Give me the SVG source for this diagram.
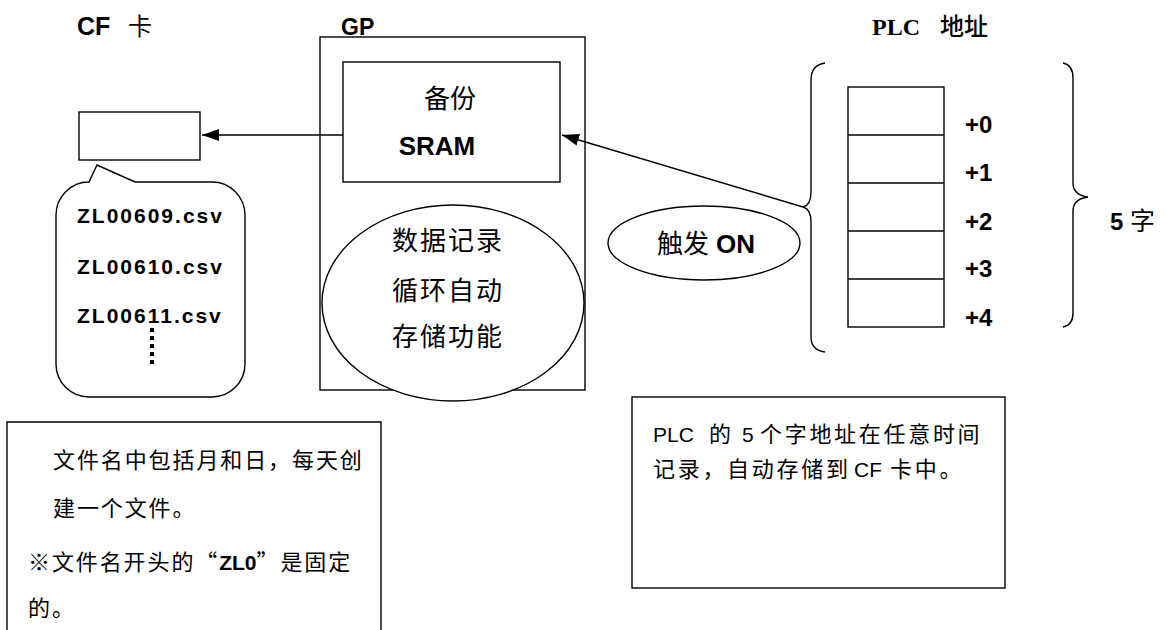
<svg xmlns="http://www.w3.org/2000/svg" width="1166" height="630" viewBox="0 0 1166 630">
<style>
.s{fill:none;stroke:#000;stroke-width:1.4}
.w{fill:#fff;stroke:#000;stroke-width:1.4}
text{font-family:"Liberation Sans","Noto Sans CJK SC",sans-serif;fill:#000}
.b{font-weight:bold}
.cj{font-family:"Noto Sans CJK SC",sans-serif}
.big{font-size:26px}
.lbl{font-size:24px;font-weight:bold}
.note{font-size:22px;letter-spacing:1.9px}
.nr{font-size:22px;letter-spacing:2.7px}
.lat{font-family:"Liberation Sans",sans-serif;font-size:21px;letter-spacing:0}
.fn{font-size:21px;font-weight:bold;letter-spacing:2px}
</style>
<defs>
<marker id="ah" markerWidth="18" markerHeight="12" refX="17" refY="6" orient="auto" markerUnits="userSpaceOnUse">
<path d="M0,0 L17,6 L0,12 Z" fill="#000"/>
</marker>
</defs>
<rect width="1166" height="630" fill="#fff"/>

<g id="titles">
<text x="77" y="35" font-size="25" class="b">CF</text>
<text x="128" y="35" font-size="24" class="cj">卡</text>
<text x="341" y="35" font-size="23" class="b">GP</text>
<text x="872" y="35" font-size="24" font-weight="bold" style="font-family:'Liberation Serif',serif">PLC</text>
<text x="940" y="35" font-size="24" class="cj" font-weight="500">地址</text>
</g>

<g id="cf-card">
<rect class="w" x="79" y="112" width="121" height="48"/>
</g>

<g id="file-list">
<path class="w" d="M89,182 L97,165 L135,182 H212 A33,33 0 0 1 245,215 V364 A33,33 0 0 1 212,397 H89 A33,33 0 0 1 56,364 V215 A33,33 0 0 1 89,182 Z"/>
<text class="fn" x="77" y="223">ZL00609.csv</text>
<text class="fn" x="77" y="274">ZL00610.csv</text>
<text class="fn" x="77" y="323">ZL00611.csv</text>
<line x1="152" y1="328" x2="152" y2="368" stroke="#000" stroke-width="4" stroke-dasharray="4 4"/>
</g>

<g id="gp">
<rect class="w" x="320" y="37" width="265" height="353"/>
</g>

<g id="sram">
<rect class="w" x="343" y="62" width="217" height="120"/>
<text class="big cj" x="450" y="108" text-anchor="middle">备份</text>
<text class="big b" x="437" y="155" text-anchor="middle">SRAM</text>
</g>

<g id="logging">
<ellipse class="w" cx="453" cy="303" rx="131" ry="98"/>
<text class="big cj" x="448" y="250" text-anchor="middle" letter-spacing="2">数据记录</text>
<text class="big cj" x="448" y="300" text-anchor="middle" letter-spacing="2">循环自动</text>
<text class="big cj" x="448" y="346" text-anchor="middle" letter-spacing="2">存储功能</text>
</g>

<g id="trigger">
<ellipse class="w" cx="704" cy="243" rx="96" ry="37"/>
<text class="big" x="706" y="253" text-anchor="middle"><tspan class="cj">触发</tspan><tspan class="b"> ON</tspan></text>
</g>

<g id="plc-words">
<rect class="w" x="848" y="87" width="96" height="240"/>
<line class="s" x1="848" y1="135" x2="944" y2="135"/>
<line class="s" x1="848" y1="183" x2="944" y2="183"/>
<line class="s" x1="848" y1="231" x2="944" y2="231"/>
<line class="s" x1="848" y1="279" x2="944" y2="279"/>
<text class="lbl" x="965" y="133">+0</text>
<text class="lbl" x="965" y="181">+1</text>
<text class="lbl" x="965" y="230">+2</text>
<text class="lbl" x="965" y="277">+3</text>
<text class="lbl" x="965" y="326">+4</text>
</g>

<g id="left-brace">
<path class="s" d="M825,63 Q811,65 811,80 V192 Q811,205 803,207 Q811,209 811,222 V337 Q811,350 825,352"/>
</g>

<g id="right-brace">
<path class="s" d="M1063,63 Q1073,65 1073,78 V183 Q1073,195 1088,197 Q1073,199 1073,211 V313 Q1073,325 1063,327"/>
<text x="1110" y="230" font-size="24" class="b">5</text>
<text x="1130" y="230" font-size="25" class="cj">字</text>
</g>

<g id="note-left">
<path class="s" d="M7,632 V422 H381 V632"/>
<text class="note cj" x="53" y="468">文件名中包括月和日，每天创</text>
<text class="note cj" x="53" y="516">建一个文件。</text>
<text class="note" x="28" y="570"><tspan class="cj">※文件名开头的“</tspan><tspan class="lat b">ZL0</tspan><tspan class="cj">”是固定</tspan></text>
<text class="note cj" x="28" y="616">的。</text>
</g>

<g id="note-right">
<rect class="w" x="632" y="397" width="373" height="191"/>
<text class="nr" y="442"><tspan class="lat" x="653">PLC</tspan><tspan class="cj" x="709">的</tspan><tspan class="lat" x="742">5</tspan><tspan class="cj" x="760">个字地址在任意时间</tspan></text>
<text class="nr" y="477"><tspan class="cj" x="653">记录，自动存储到</tspan><tspan class="lat" x="854">CF</tspan><tspan class="cj" x="890">卡中。</tspan></text>
</g>

<g id="connectors">
<line class="s" x1="343" y1="135" x2="202" y2="135" marker-end="url(#ah)"/>
<line class="s" x1="803" y1="207" x2="562" y2="135" marker-end="url(#ah)"/>
</g>
</svg>
